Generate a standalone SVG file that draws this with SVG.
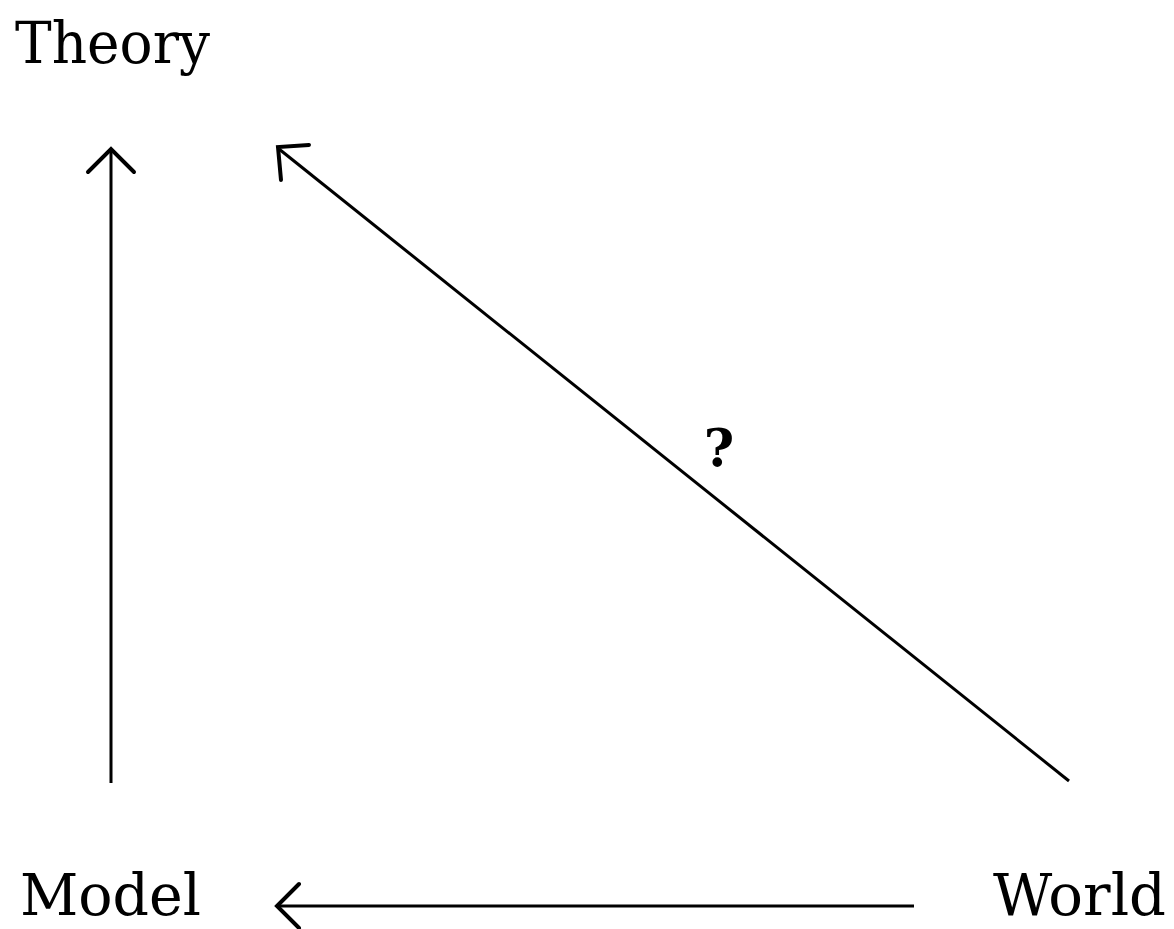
<svg xmlns="http://www.w3.org/2000/svg" width="1174" height="929" viewBox="0 0 1174 929">
<style>
.lbl{font-family:"DejaVu Serif","Liberation Serif",serif;font-size:58px;fill:#000}
.q{font-family:"DejaVu Serif","Liberation Serif",serif;font-size:52px;font-weight:bold;fill:#000}
.edge{stroke:#000;stroke-width:3;fill:none}
.head{stroke:#000;stroke-width:4;fill:none;stroke-linecap:round;stroke-linejoin:miter}
</style>
<rect width="1174" height="929" fill="#fff"/>
<g id="theory"><text class="lbl" x="15" y="63" textLength="195" lengthAdjust="spacingAndGlyphs">Theory</text></g>
<g id="model"><text class="lbl" x="20" y="915" textLength="181" lengthAdjust="spacingAndGlyphs">Model</text></g>
<g id="world"><text class="lbl" x="993" y="915" textLength="173" lengthAdjust="spacingAndGlyphs">World</text></g>
<g id="connectors">
<line class="edge" x1="111" y1="783" x2="111" y2="149"/>
<polyline class="head" points="88,172 111,149 134,172"/>
<line class="edge" x1="1069" y1="781" x2="279" y2="149"/>
<polyline class="head" points="309,145 278,147 281,180"/>
<line class="edge" x1="914" y1="906" x2="278" y2="906"/>
<polyline class="head" points="299,884 277,906 299,928"/>
<text class="q" x="719" y="466" text-anchor="middle">?</text>
</g>
</svg>
